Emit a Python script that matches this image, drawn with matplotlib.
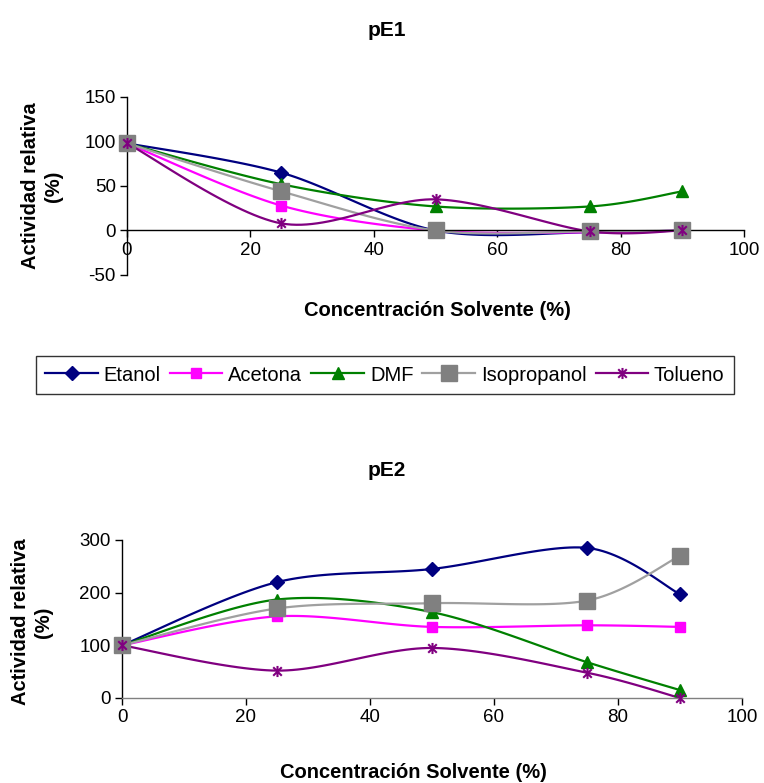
import numpy as np
import matplotlib
import matplotlib.pyplot as plt
from matplotlib.path import Path
from matplotlib.lines import Line2D

matplotlib.use('agg')

plt.rcParams['font.family'] = ['Liberation Sans', 'DejaVu Sans']
plt.rcParams['axes.unicode_minus'] = False

# Data.
conc = [0, 25, 50, 75, 90]
series_names = ['Etanol', 'Acetona', 'DMF', 'Isopropanol', 'Tolueno']
pe1_etanol = [98, 65, 0, -2, 0]
pe1_acetona = [98, 28, 0, -2, 0]
pe1_dmf = [98, 52, 27, 27, 44]
pe1_isopropanol = [98, 44, 0, -1, 0]
pe1_tolueno = [98, 8, 35, -1, 0]
pe2_etanol = [100, 220, 245, 285, 197]
pe2_acetona = [100, 155, 135, 138, 135]
pe2_dmf = [100, 187, 163, 68, 15]
pe2_isopropanol = [100, 170, 180, 185, 270]
pe2_tolueno = [100, 52, 95, 48, 0]

# Excel-like asterisk marker: an X with a vertical bar.
star = Path([(-1, -1), (1, 1), (-1, 1), (1, -1), (0, -1.3), (0, 1.3)],
            [Path.MOVETO, Path.LINETO] * 3)

styles = [
    dict(color='#000080', marker='D', mfc='#000080', mec='#000080', ms=7),
    dict(color='#FF00FF', marker='s', mfc='#FF00FF', mec='#FF00FF', ms=7),
    dict(color='#008000', marker='^', mfc='#008000', mec='#008000', ms=8),
    dict(color='#A0A0A0', marker='s', mfc='#808080', mec='#808080', ms=11),
    dict(color='#800080', marker=star, mfc='none', mec='#800080', ms=8,
         mew=1.5),
]


def smooth(x, y, n=30):
    """ Bezier smoothing through the points, like Excel's smoothed line. """
    pts = np.column_stack([x, y]).astype(float)
    p = np.vstack([pts[0], pts, pts[-1]])
    t = np.linspace(0, 1, n)[:, None]
    out = []
    for i in range(1, len(p) - 2):
        p0, p1, p2, p3 = p[i - 1], p[i], p[i + 1], p[i + 2]
        c1 = p1 + (p2 - p0) / 6.5
        c2 = p2 - (p3 - p1) / 6.5
        seg = ((1 - t) ** 3) * p1 + 3 * ((1 - t) ** 2 * t) * c1 \
            + 3 * ((1 - t) * t ** 2) * c2 + (t ** 3) * p2
        out.append(seg if i == 1 else seg[1:])
    out = np.vstack(out)
    return out[:, 0], out[:, 1]


def draw(ax, data):
    for vals, st in zip(data, styles):
        sx, sy = smooth(conc, vals)
        ax.plot(sx, sy, color=st['color'], lw=1.6, clip_on=False, zorder=2)
        ax.plot(conc, vals, ls='none', marker=st['marker'], ms=st['ms'],
                mfc=st['mfc'], mec=st['mec'], mew=st.get('mew', 1),
                clip_on=False, zorder=3)


fig = plt.figure(figsize=(7.64, 7.83), dpi=100)

# Top chart: pE1
ax1 = fig.add_axes([127 / 764, 1 - 275 / 783, 617 / 764, 178 / 783])
draw(ax1, [pe1_etanol, pe1_acetona, pe1_dmf, pe1_isopropanol, pe1_tolueno])
ax1.set_xlim(0, 100)
ax1.set_ylim(-50, 150)
ax1.set_xticks(range(0, 101, 20))
ax1.set_yticks([-50, 0, 50, 100, 150])
ax1.spines['bottom'].set_position(('data', 0))
ax1.spines[['top', 'right']].set_visible(False)

# Bottom chart: pE2
ax2 = fig.add_axes([122 / 764, 1 - 698 / 783, 620 / 764, 158 / 783])
draw(ax2, [pe2_etanol, pe2_acetona, pe2_dmf, pe2_isopropanol, pe2_tolueno])
ax2.set_xlim(0, 100)
ax2.set_ylim(0, 300)
ax2.set_xticks(range(0, 101, 20))
ax2.set_yticks([0, 100, 200, 300])
ax2.spines[['top', 'right']].set_visible(False)
ax2.spines['bottom'].set_color('#808080')

for ax in (ax1, ax2):
    ax.tick_params(direction='out', length=5, width=1, labelsize=13.5,
                   pad=3)
    ax.spines['left'].set_linewidth(1)
    ax.spines['bottom'].set_linewidth(1)
    ax.set_facecolor('none')

# Titles and axis labels
fig.text(387 / 764, 1 - 30 / 783, 'pE1', ha='center', va='center',
         fontsize=15, fontweight='bold')
fig.text(387 / 764, 1 - 470 / 783, 'pE2', ha='center', va='center',
         fontsize=15, fontweight='bold')
fig.text(42 / 764, 1 - 186 / 783, 'Actividad relativa\n(%)', rotation=90,
         ha='center', va='center', multialignment='center', fontsize=14.5,
         fontweight='bold', linespacing=1.25)
fig.text(32 / 764, 1 - 622 / 783, 'Actividad relativa\n(%)', rotation=90,
         ha='center', va='center', multialignment='center', fontsize=14.5,
         fontweight='bold', linespacing=1.25)
fig.text(437 / 764, 1 - 311 / 783, 'Concentración Solvente (%)',
         ha='center', va='center', fontsize=14.5, fontweight='bold')
fig.text(413 / 764, 1 - 772 / 783, 'Concentración Solvente (%)',
         ha='center', va='center', fontsize=14.5, fontweight='bold')

# Legend
handles = [Line2D([0], [0], color=st['color'], lw=1.6, marker=st['marker'],
                  ms=st['ms'], mfc=st['mfc'], mec=st['mec'],
                  mew=st.get('mew', 1)) for st in styles]
leg = fig.legend(handles, series_names, loc='center', ncol=5,
                 bbox_to_anchor=(385 / 764, 1 - 375 / 783), fontsize=14.5,
                 frameon=True, fancybox=False, edgecolor='black',
                 handlelength=2.6, handletextpad=0.3, columnspacing=0.45,
                 borderpad=0.45, borderaxespad=0)
leg.get_frame().set_linewidth(1)

plt.savefig('out.png', dpi=100)
plt.close()
